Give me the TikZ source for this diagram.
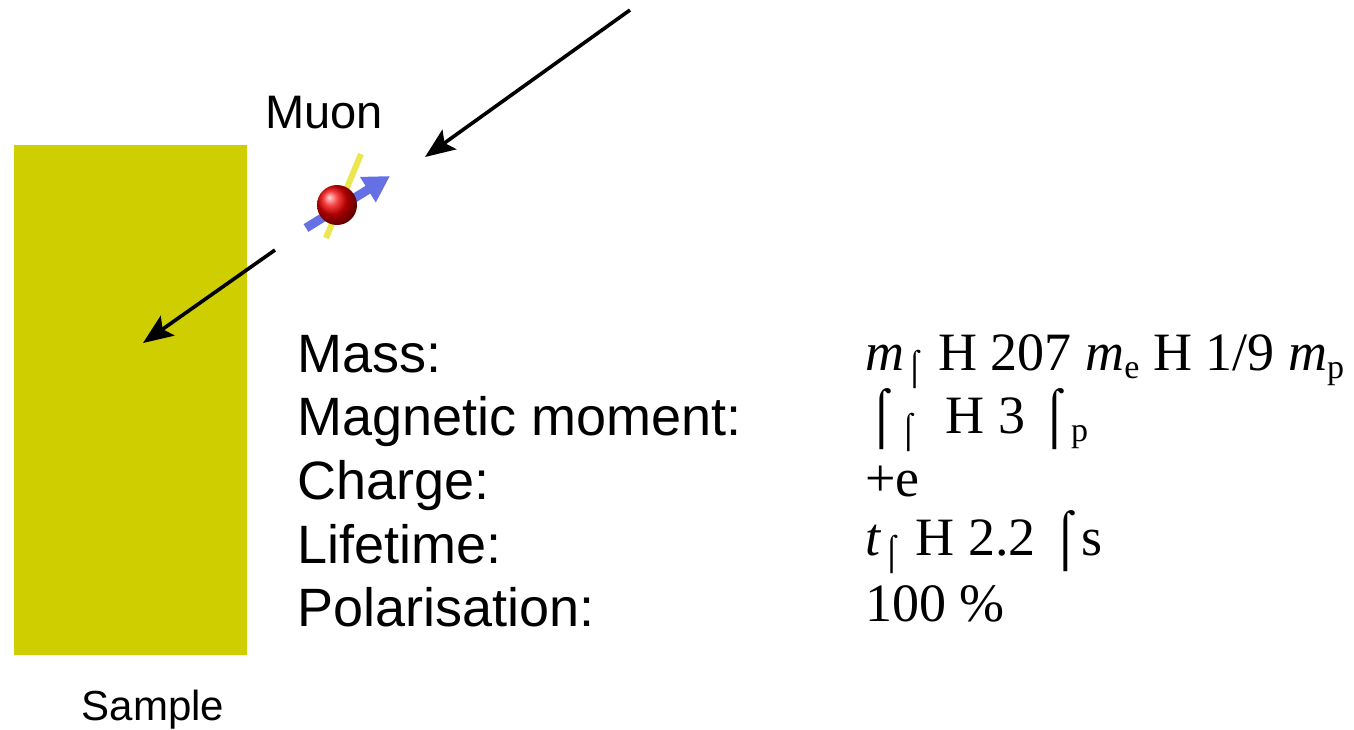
\documentclass[tikz,border=0pt]{standalone}
\usepackage{fontspec}
\setmainfont{Liberation Serif}
\setsansfont{Liberation Sans}
\usetikzlibrary{arrows.meta}

\definecolor{samplecol}{RGB}{206,206,0}
\definecolor{spincol}{RGB}{100,112,228}
\definecolor{stickcol}{RGB}{236,230,80}

% lowered index in the value column
\newcommand{\lowsub}[1]{\raisebox{-0.35ex}{\fontsize{17}{17}\selectfont #1}}

\begin{document}
\begin{tikzpicture}
  [
    x=0.5pt, y=-0.5pt,
    propname/.style =
      {anchor=base west, inner sep=0pt, font=\sffamily\fontsize{27}{32}\selectfont},
    propval/.style =
      {anchor=base west, inner sep=0pt, font=\rmfamily\fontsize{27}{32}\selectfont},
    beam/.style =
      {-{Stealth[length=15pt, width=12pt, inset=3pt]}, line width=1.8pt}
  ]
  \useasboundingbox (0,0) rectangle (1354,729);

  % sample block
  \fill [samplecol] (14,145) rectangle (247,655);
  \node [font=\sffamily\fontsize{21}{24}\selectfont, anchor=base] at (153,720) (sample) {Sample};

  % the muon with its spin
  \node [font=\sffamily\fontsize{23.5}{26}\selectfont, anchor=base] at (324,128) (muon) {Muon};
  \draw [spincol, line width=4.5pt, -{Triangle[length=13pt, width=14pt]}] (306,228) -- (390,176);
  \draw [stickcol, line width=3pt] (361,154) -- (326,238);
  \shade [ball color=red!95!black] (337,205) circle (10pt);

  \coordinate (src)  at (630,10);
  \coordinate (hit)  at (425,157);
  \coordinate (exit) at (275,250);
  \coordinate (stop) at (143,343);
  \draw [beam] (src)  -- (hit);
  \draw [beam] (exit) -- (stop);

  \node [propname] at (297,372) (mass)   {Mass:};
  \node [propname] at (297,435) (moment) {Magnetic moment:};
  \node [propname] at (297,499) (charge) {Charge:};
  \node [propname] at (297,563) (life)   {Lifetime:};
  \node [propname] at (297,626) (pol)    {Polarisation:};

  \node [propval] at (865,370) (massv)
    {\textit{m}\lowsub{⌠} H 207 \textit{m}\lowsub{e} H 1/9 \textit{m}\lowsub{p}};
  \node [propval] at (865,433) (momentv) {⌠\lowsub{⌠}\ \ H 3 ⌠\lowsub{p}};
  \node [propval] at (865,496) (chargev) {+e};
  \node [propval] at (865,555) (lifev)   {\textit{t}\lowsub{⌠} H 2.2 ⌠s};
  \node [propval] at (865,621) (polv)    {100 \%};
\end{tikzpicture}
\end{document}
